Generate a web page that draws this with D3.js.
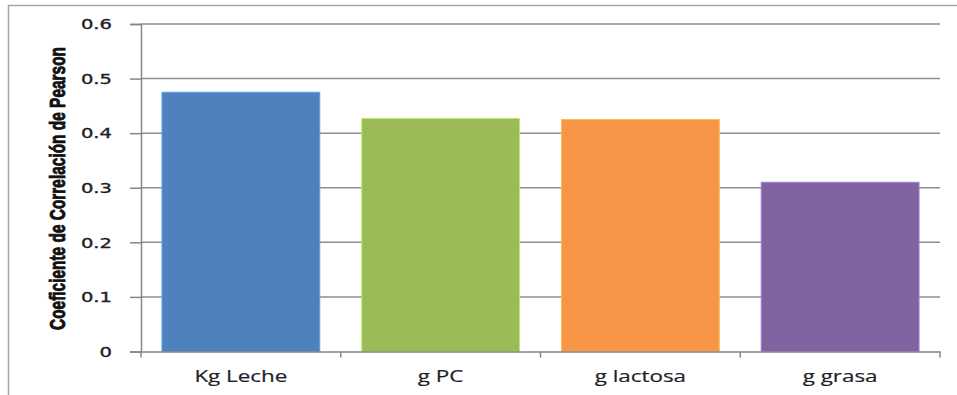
<!DOCTYPE html>
<html>
<head>
<meta charset="utf-8">
<script src="https://cdn.jsdelivr.net/npm/d3@7"></script>
<style>
  html, body { margin: 0; padding: 0; background: #ffffff; overflow: hidden; width: 957px; height: 395px; }
  svg { display: block; overflow: hidden; }
</style>
</head>
<body>
<svg id="chart" width="957" height="395"></svg>
<script>
// Pearson correlation per milk component
const categories = ["Kg Leche", "g PC", "g lactosa", "g grasa"];
const values = [0.475, 0.427, 0.425, 0.31];
const barColors = ["#4F81BD", "#9BBB59", "#F79646", "#8064A2"];
const yTicks = [0, 0.1, 0.2, 0.3, 0.4, 0.5, 0.6];
const yTitle = "Coeficiente de Correlación de Pearson";

const svg = d3.select("#chart");
const plot = { left: 141, right: 940, top: 24, bottom: 351.5 };

// outer chart frame (left and top edges fall inside the view)
svg.append("path")
  .attr("d", "M8.5,395V5.5H957")
  .attr("fill", "none").attr("stroke", "#a6a6a6").attr("stroke-width", 1.5);

const x = d3.scaleBand()
  .domain(categories)
  .range([plot.left, plot.right])
  .paddingInner(0.21)
  .paddingOuter(0.105);

const y = d3.scaleLinear()
  .domain([0, 0.6])
  .range([plot.bottom, plot.top]);

// horizontal gridlines
svg.append("g")
  .selectAll("line")
  .data(yTicks.filter(t => t > 0))
  .join("line")
  .attr("x1", plot.left).attr("x2", plot.right)
  .attr("y1", d => y(d)).attr("y2", d => y(d))
  .attr("stroke", "#8e8e8e").attr("stroke-width", 1.5);

// bars
svg.append("g")
  .selectAll("rect")
  .data(categories)
  .join("rect")
  .attr("x", d => x(d))
  .attr("width", x.bandwidth())
  .attr("y", (d, i) => y(values[i]))
  .attr("height", (d, i) => y(0) - y(values[i]))
  .attr("fill", (d, i) => barColors[i])
  .attr("stroke", (d, i) => d3.color(barColors[i]).brighter(0.6))
  .attr("stroke-width", 1);

// y axis
const yAxis = svg.append("g")
  .attr("transform", `translate(${plot.left},0)`)
  .call(d3.axisLeft(y).tickValues(yTicks).tickSize(11).tickFormat(d => d === 0 ? "0" : d3.format(".1f")(d)));
yAxis.select(".domain").attr("stroke", "#868686").attr("stroke-width", 1.5);
yAxis.selectAll(".tick line").attr("stroke", "#868686").attr("stroke-width", 1.5);
yAxis.selectAll(".tick text")
  .attr("x", 0).attr("dy", "0.35em")
  .attr("fill", "#1f1f2a")
  .attr("stroke", "#1f1f2a").attr("stroke-width", 0.35)
  .style("font-family", "'DejaVu Sans', Verdana, sans-serif")
  .style("font-size", "13.5px")
  .attr("text-anchor", "end")
  .attr("transform", "translate(-29,0) scale(1.45,1)");

// x axis
const xAxis = svg.append("g")
  .attr("transform", `translate(0,${plot.bottom})`)
  .call(d3.axisBottom(x).tickSize(0).tickSizeOuter(0));
xAxis.select(".domain").attr("stroke", "#868686").attr("stroke-width", 1.5);
xAxis.selectAll(".tick text").remove();
// category boundary ticks
const bounds = categories.map(c => x(c) - x.step() * x.paddingInner() / 2);
bounds[0] = plot.left;
bounds.push(plot.right);
xAxis.selectAll(".bound")
  .data(bounds)
  .join("line")
  .attr("class", "bound")
  .attr("x1", d => d).attr("x2", d => d)
  .attr("y1", 0).attr("y2", 6)
  .attr("stroke", "#868686").attr("stroke-width", 1.5);

// category labels
svg.append("g")
  .selectAll("text")
  .data(categories)
  .join("text")
  .attr("transform", d => `translate(${x(d) + x.bandwidth() / 2},382) scale(1.4,1)`)
  .attr("text-anchor", "middle")
  .attr("fill", "#1f1f2a")
  .attr("stroke", "#1f1f2a").attr("stroke-width", 0.2)
  .style("font-family", "'Open Sans', sans-serif")
  .style("font-size", "16px")
  .text(d => d);

// y axis title
svg.append("text")
  .attr("transform", "translate(65,188.5) scale(1.45,1) rotate(-90)")
  .attr("text-anchor", "middle")
  .attr("fill", "#111")
  .attr("stroke", "#111").attr("stroke-width", 0.6)
  .style("font-family", "'Liberation Sans Narrow', 'Liberation Sans', sans-serif")
  .style("font-size", "15px")
  .style("font-weight", "bold")
  .attr("textLength", 283)
  .attr("lengthAdjust", "spacingAndGlyphs")
  .text(yTitle);
</script>
</body>
</html>
